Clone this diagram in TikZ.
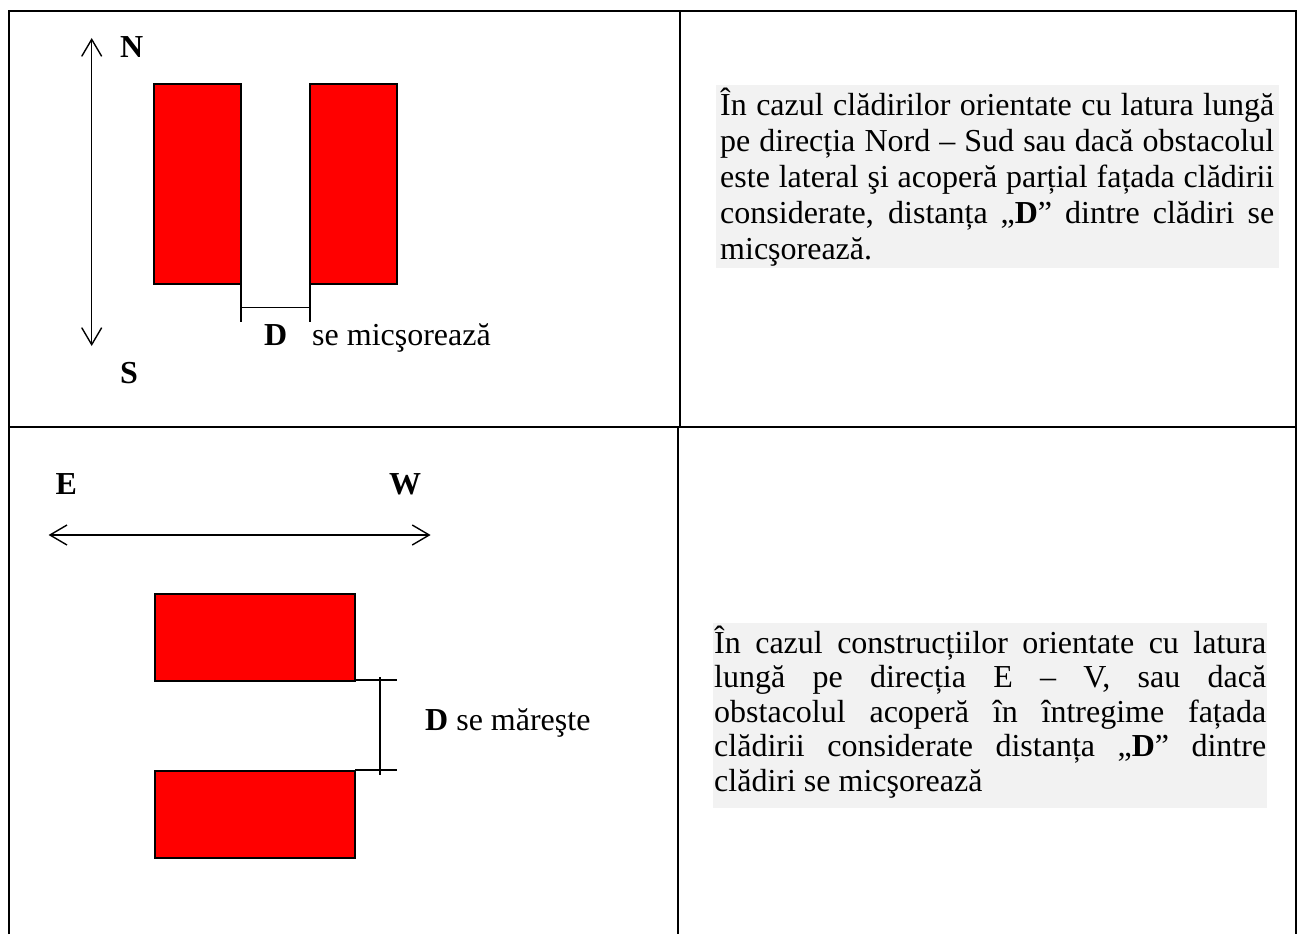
\documentclass[tikz,border=0pt]{standalone}
\usepackage{fontspec}
\setmainfont{Liberation Serif}
\usetikzlibrary{arrows.meta}
\definecolor{bldred}{HTML}{FF0000}
\definecolor{greybg}{HTML}{F2F2F2}
\newcommand{\jl}[2][554pt]{\makebox[#1][s]{#2}}
\begin{document}
\begin{tikzpicture}[x=1pt,y=-1pt,
  frame/.style={line width=2pt,black},
  bldg/.style={fill=bldred,draw=black,line width=1.4pt},
  dimline/.style={line width=1.4pt,black},
  compass/.style={line width=1.4pt,black,{Straight Barb[length=17pt,width=20pt,line width=1.4pt]}-{Straight Barb[length=17pt,width=20pt,line width=1.4pt]}},
  lbl/.style={inner sep=0pt,anchor=base west,font=\fontsize{32}{36}\selectfont},
  txt/.style={inner sep=0pt,anchor=base west,font=\fontsize{32}{36}\selectfont}]
\useasboundingbox (0,0) rectangle (1297,934);
% table frame
\draw[frame] (8.7,934) -- (8.7,11) -- (1295.5,11) -- (1295.5,934);
\draw[frame] (8.7,426.7) -- (1295.5,426.7);
\draw[frame] (680,11) -- (680,426.7);
\draw[frame] (678,426.7) -- (678,934);

% ---------- top left ----------
\coordinate (ntip) at (91.7,38);
\coordinate (stip) at (91.7,346);
\draw[compass] (stip) -- (ntip);
\node[lbl] (N) at (120,57) {\textbf{N}};
\node[lbl] (S) at (120,383) {\textbf{S}};
\draw[bldg] (154,84) rectangle (241,284);
\draw[bldg] (310,84) rectangle (397,284);
\coordinate (d1a) at (241,284);
\coordinate (d1b) at (241,322);
\coordinate (d2a) at (310,284);
\coordinate (d2b) at (310,322);
\coordinate (dl) at (241,307.7);
\coordinate (dr) at (310,307.7);
\draw[dimline] (d1a) -- (d1b);
\draw[dimline] (d2a) -- (d2b);
\draw[dimline] (dl) -- (dr);
\node[lbl] (Dtop) at (264,345) {\textbf{D}};
\node[lbl] (semic) at (312,345) {se micşorează};

% ---------- top right ----------
\fill[greybg] (716,85) rectangle (1279,268);
\node[txt] (a1) at (720,115) {\jl{În cazul clădirilor orientate cu latura lungă}};
\node[txt] (a2) at (720,151) {\jl{pe direcția Nord – Sud sau dacă obstacolul}};
\node[txt] (a3) at (720,187) {\jl{este lateral şi acoperă parțial fațada clădirii}};
\node[txt] (a4) at (720,223) {\jl{considerate, distanța „\textbf{D}” dintre clădiri se}};
\node[txt] (a5) at (720,259) {micşorează.};

% ---------- bottom left ----------
\node[lbl] (E) at (55.5,494) {\textbf{E}};
\node[lbl] (W) at (389,494) {\textbf{W}};
\coordinate (etip) at (48.6,535);
\coordinate (wtip) at (430.6,535);
\draw[compass] (etip) -- (wtip);
\draw[bldg] (155,594) rectangle (355,681);
\draw[bldg] (155,771) rectangle (355,858);
\coordinate (e1a) at (355,680);
\coordinate (e1b) at (397,680);
\coordinate (e2a) at (355,770);
\coordinate (e2b) at (397,770);
\coordinate (vt) at (380,677);
\coordinate (vb) at (380,775);
\draw[dimline] (e1a) -- (e1b);
\draw[dimline] (e2a) -- (e2b);
\draw[dimline] (vt) -- (vb);
\node[lbl] (Dmar) at (425,730) {\textbf{D} se măreşte};

% ---------- bottom right ----------
\fill[greybg] (713,623) rectangle (1267,808);
\node[txt] (b1) at (714,653) {\jl[552pt]{În cazul construcțiilor orientate cu latura}};
\node[txt] (b2) at (714,687.5) {\jl[552pt]{lungă pe direcția E – V, sau dacă}};
\node[txt] (b3) at (714,722) {\jl[552pt]{obstacolul acoperă în întregime fațada}};
\node[txt] (b4) at (714,756.5) {\jl[552pt]{clădirii considerate distanța „\textbf{D}” dintre}};
\node[txt] (b5) at (714,791) {clădiri se micşorează};
\end{tikzpicture}
\end{document}
